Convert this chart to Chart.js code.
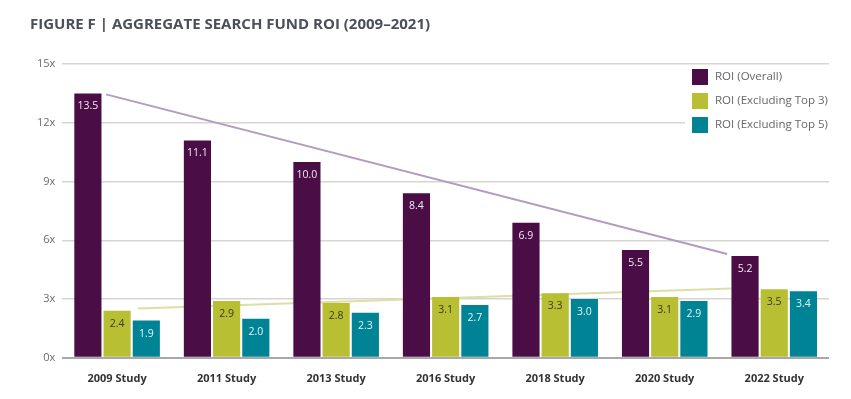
<!doctype html>
<html>
<head>
<meta charset="UTF-8">
<title>Aggregate Search Fund ROI</title>
<script src="https://cdn.jsdelivr.net/npm/chart.js@4.4.1/dist/chart.umd.min.js"></script>
<style>
	html, body { margin: 0; padding: 0; background: #fff; }
	#holder { width: 851px; height: 399px; }
</style>
</head>
<body>
<div id="holder">
	<canvas id="roi-chart" width="851" height="399"></canvas>
</div>
<script>
	var studies = ['2009 Study', '2011 Study', '2013 Study', '2016 Study', '2018 Study', '2020 Study', '2022 Study'];
	var roiOverall = [13.5, 11.1, 10.0, 8.4, 6.9, 5.5, 5.2];
	var roiExTop3 = [2.4, 2.9, 2.8, 3.1, 3.3, 3.1, 3.5];
	var roiExTop5 = [1.9, 2.0, 2.3, 2.7, 3.0, 2.9, 3.4];
	var yTicks = [0, 3, 6, 9, 12, 15];

	// trend lines: start / end, x as fractional category index
	var trendOverall = [{x: -0.10, y: 13.45}, {x: 5.57, y: 5.3}];
	var trendTop3 = [{x: 0.19, y: 2.52}, {x: 5.61, y: 3.54}];

	var purple = '#4a0d46';
	var olive = '#b8bf33';
	var teal = '#008495';
	var fontFam = '"Open Sans", "Noto Sans", sans-serif';

	// trend lines drawn behind the bars
	var trendLines = {
		id: 'trendLines',
		beforeDatasetsDraw: function (chart) {
			var ctx = chart.ctx;
			var xs = chart.scales.x, ys = chart.scales.y;
			function line(pts, color) {
				ctx.beginPath();
				ctx.moveTo(xs.getPixelForValue(pts[0].x), ys.getPixelForValue(pts[0].y));
				ctx.lineTo(xs.getPixelForValue(pts[1].x), ys.getPixelForValue(pts[1].y));
				ctx.strokeStyle = color;
				ctx.lineWidth = 2;
				ctx.stroke();
			}
			ctx.save();
			line(trendOverall, '#b39bbf');
			line(trendTop3, '#dcdfa6');
			ctx.restore();
		}
	};

	// value labels inside bar tops
	var barLabels = {
		id: 'barLabels',
		afterDatasetsDraw: function (chart) {
			var ctx = chart.ctx;
			ctx.save();
			ctx.font = '10.5px ' + fontFam;
			ctx.textAlign = 'center';
			ctx.textBaseline = 'middle';
			chart.data.datasets.forEach(function (ds, i) {
				var meta = chart.getDatasetMeta(i);
				meta.data.forEach(function (bar, j) {
					ctx.fillStyle = ds.labelColor;
					ctx.fillText(ds.data[j].toFixed(1), bar.x, bar.y + 13);
				});
			});
			ctx.restore();
		}
	};

	// legend box at top right of the plot
	var boxLegend = {
		id: 'boxLegend',
		afterDraw: function (chart) {
			var ctx = chart.ctx;
			var area = chart.chartArea;
			var left = area.right - 144;
			ctx.save();
			ctx.fillStyle = '#fff';
			ctx.fillRect(left, area.top + 3, 144, 70);
			ctx.font = '11.5px ' + fontFam;
			ctx.textBaseline = 'middle';
			chart.data.datasets.forEach(function (ds, i) {
				var y = area.top + 13 + i * 24;
				ctx.fillStyle = ds.backgroundColor;
				ctx.fillRect(left + 7, y - 8, 16, 16);
				ctx.fillStyle = '#666';
				ctx.fillText(ds.label, left + 30, y);
			});
			ctx.restore();
		}
	};

	var config = {
		type: 'bar',
		data: {
			labels: studies,
			datasets: [
				{ label: 'ROI (Overall)', data: roiOverall, backgroundColor: purple, labelColor: '#f3e9f2' },
				{ label: 'ROI (Excluding Top 3)', data: roiExTop3, backgroundColor: olive, labelColor: '#3b3a1a' },
				{ label: 'ROI (Excluding Top 5)', data: roiExTop5, backgroundColor: teal, labelColor: '#e3f3f5' }
			]
		},
		options: {
			responsive: false,
			animation: false,
			layout: { padding: { left: 30, right: 22, top: 0, bottom: 8 } },
			datasets: { bar: { categoryPercentage: 0.8, barPercentage: 0.93 } },
			plugins: {
				legend: { display: false },
				tooltip: { enabled: false },
				title: {
					display: true,
					text: 'FIGURE F | AGGREGATE SEARCH FUND ROI (2009\u20132021)',
					align: 'start',
					color: '#4b4f59',
					font: { family: fontFam, size: 15, weight: 'bold' },
					padding: { top: 16, bottom: 30 }
				}
			},
			scales: {
				x: {
					grid: { display: false },
					border: { display: false },
					ticks: { color: '#333', font: { family: fontFam, size: 11, weight: 'bold' }, padding: 6 }
				},
				y: {
					min: 0, max: 15,
					afterBuildTicks: function (axis) { axis.ticks = yTicks.map(function (v) { return { value: v }; }); },
					border: { display: false },
					grid: {
						drawTicks: false,
						lineWidth: function (c) { return c.tick && c.tick.value === 0 ? 2 : 1.5; },
						color: function (c) { return c.tick && c.tick.value === 0 ? '#a8a8a8' : '#d8d5d0'; }
					},
					ticks: {
						color: '#6b6b6b', padding: 7,
						font: { family: fontFam, size: 11 },
						callback: function (v) { return v + 'x'; }
					}
				}
			}
		},
		plugins: [trendLines, barLabels, boxLegend]
	};

	new Chart(document.getElementById('roi-chart').getContext('2d'), config);
</script>
</body>
</html>
